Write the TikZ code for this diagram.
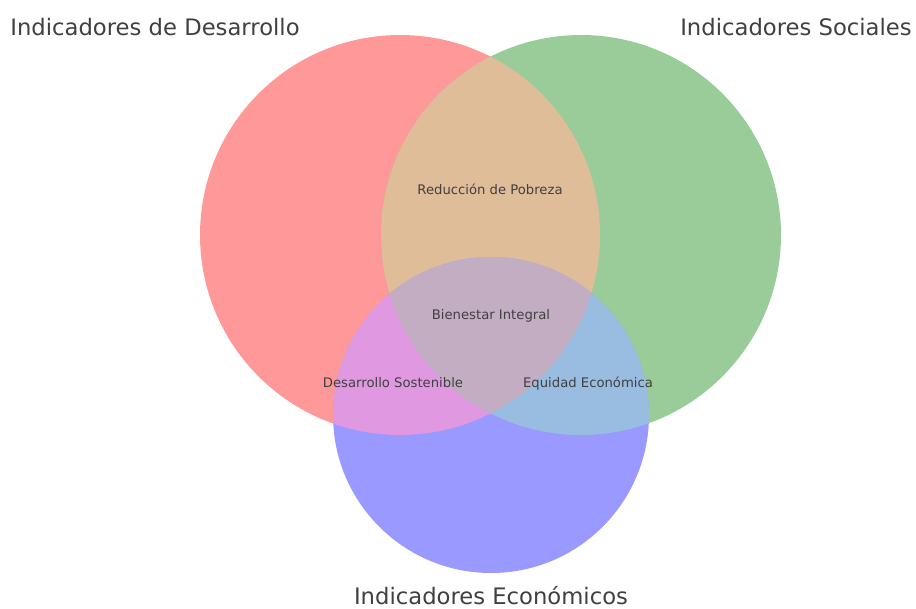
\documentclass[tikz,border=0pt]{standalone}
\usepackage{fontspec}
\setmainfont{DejaVu Sans}
\definecolor{vred}{RGB}{255,153,153}
\definecolor{vgreen}{RGB}{153,204,153}
\definecolor{vblue}{RGB}{153,153,255}
\definecolor{vredgreen}{RGB}{224,189,153}
\definecolor{vredblue}{RGB}{224,153,224}
\definecolor{vgreenblue}{RGB}{153,189,224}
\definecolor{vall}{RGB}{194,173,194}
\tikzset{
  settitle/.style={anchor=base, inner sep=0pt, text=black!75, font=\fontsize{22.7}{26}\selectfont},
  zonetext/.style={anchor=base, inner sep=0pt, text=black!75, font=\fontsize{13.2}{16}\selectfont},
}
\begin{document}
\begin{tikzpicture}[x=1pt,y=-1pt]
                  \useasboundingbox (0,0) rectangle (916,608);
                  \coordinate (desarrollo) at (400,235);
                  \coordinate (sociales) at (581,235);
                  \coordinate (economicos) at (491,415);
                  % the three sets
                  \fill[vred] (desarrollo) circle (200pt);
                  \fill[vgreen] (sociales) circle (200pt);
                  \fill[vblue] (economicos) circle (158pt);
                  % pairwise overlaps
                  \begin{scope}
                     \clip (desarrollo) circle (200pt);
                     \fill[vredgreen] (sociales) circle (200pt);
                     \fill[vredblue] (economicos) circle (158pt);
                     \clip (sociales) circle (200pt);
                     \fill[vall] (economicos) circle (158pt);
                  \end{scope}
                  \begin{scope}
                     \clip (sociales) circle (200pt);
                     \clip (economicos) circle (158pt);
                     \fill[vgreenblue] (desarrollo) circle (1000pt);
                     \fill[vall] (desarrollo) circle (200pt);
                  \end{scope}
                  % set titles
                  \node[settitle] (tdesarrollo) at (155,35) {Indicadores de Desarrollo};
                  \node[settitle] (tsociales) at (796,35) {Indicadores Sociales};
                  \node[settitle] (teconomicos) at (491,604) {Indicadores Económicos};
                  % region labels
                  \node[zonetext] (pobreza) at (490,194) {Reducción de Pobreza};
                  \node[zonetext] (bienestar) at (491,319) {Bienestar Integral};
                  \node[zonetext] (sostenible) at (393,387) {Desarrollo Sostenible};
                  \node[zonetext] (equidad) at (588,387) {Equidad Económica};
\end{tikzpicture}
\end{document}
